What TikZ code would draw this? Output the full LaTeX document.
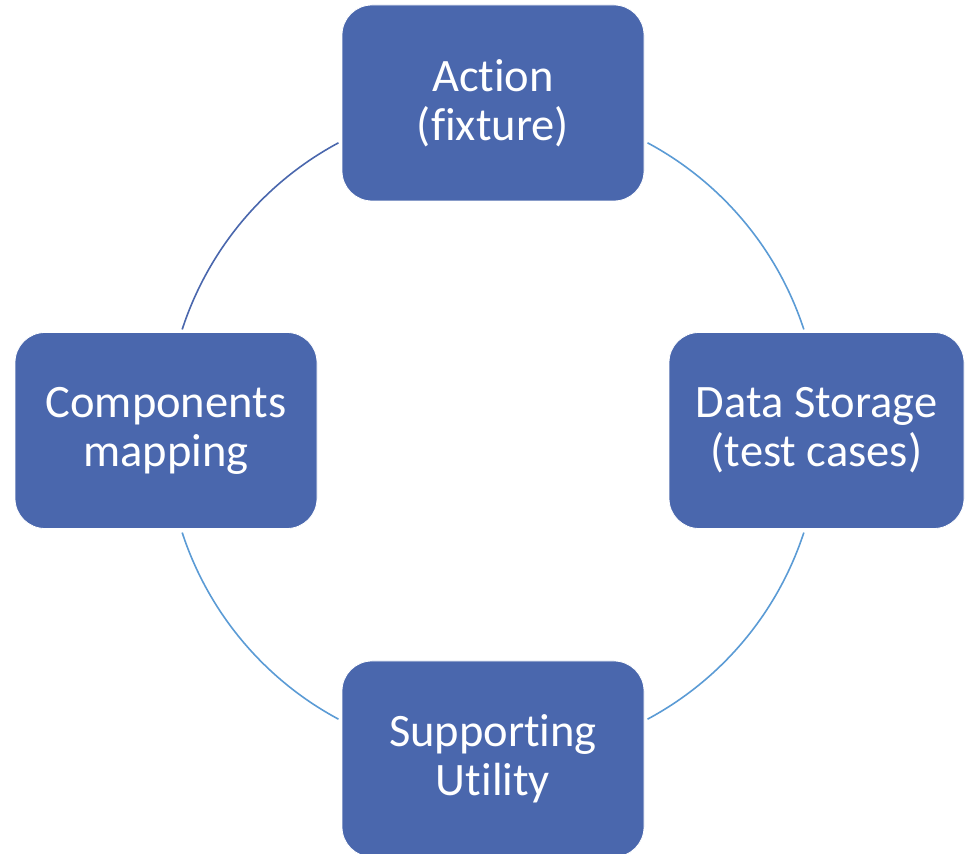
\documentclass[tikz,border=0pt]{standalone}
\usepackage{fontspec}
\setmainfont{Carlito}[Ligatures={NoCommon}]
\definecolor{boxblue}{HTML}{4A67AD}
\definecolor{arcdark}{HTML}{4A67AD}
\definecolor{arclight}{HTML}{5B9BD5}
\begin{document}
\begin{tikzpicture}[x=1pt,y=1pt,
  cyclebox/.style={rectangle, rounded corners=30pt, fill=boxblue, draw=white, line width=0.8pt,
    minimum width=302pt, minimum height=196pt, inner sep=0pt,
    text=white, align=center, font=\fontsize{46.5}{49}\selectfont},
  cyclearc/.style={line width=1.6pt}]
\useasboundingbox (0,0) rectangle (965,853);
\coordinate (c) at (493,422);
\node[cyclebox] (action) at (493,750) {Action\\(fixture)};
\node[cyclebox] (components) at (166,422.5) {Components\\mapping};
\node[cyclebox, minimum width=295pt] (storage) at (816.5,422.5) {Data Storage\\(test cases)};
\node[cyclebox] (utility) at (493,94) {Supporting\\Utility};
\draw[cyclearc, arcdark] ([shift={(118.2:327)}]c) arc[start angle=118.2, end angle=161.9, radius=327];
\draw[cyclearc, arclight] ([shift={(61.8:327)}]c) arc[start angle=61.8, end angle=18.1, radius=327];
\draw[cyclearc, arclight] ([shift={(-18.1:327)}]c) arc[start angle=-18.1, end angle=-61.8, radius=327];
\draw[cyclearc, arclight] ([shift={(-118.2:327)}]c) arc[start angle=-118.2, end angle=-161.9, radius=327];
\end{tikzpicture}
\end{document}
